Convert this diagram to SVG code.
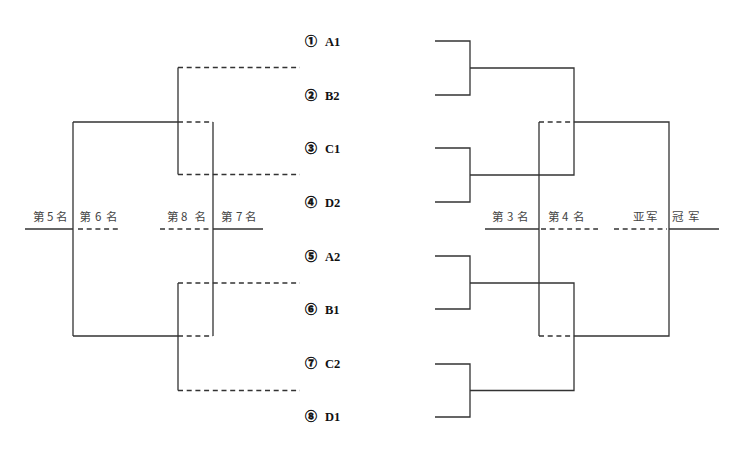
<svg xmlns="http://www.w3.org/2000/svg" width="747" height="449" viewBox="0 0 747 449">
<style>
.s{fill:none;stroke:#333;stroke-width:1.3}
.d{fill:none;stroke:#333;stroke-width:1.3;stroke-dasharray:5 3.7}
.t{font-family:"Liberation Serif","Noto Sans CJK SC",serif;font-weight:bold;font-size:12.5px;fill:#111}
.c{font-family:"Noto Sans CJK SC","DejaVu Sans",sans-serif;font-weight:900;font-size:12px;stroke:#111;stroke-width:0.4}
.r{font-family:"Noto Sans CJK SC","Liberation Sans",sans-serif;font-size:11.5px;fill:#444}
</style>
<rect width="747" height="449" fill="#fff"/>
<g id="connectors">
<path class="d" d="M178 67.5H300M178 174.5H300M178 283H300M178 390.5H300"/>
<path class="s" d="M178 67.5V174.5M178 283V390.5"/>
<path class="s" d="M73 122H178M73 336H178M73 122V336M213 122V336"/>
<path class="d" d="M178 122H213M178 336H213"/>
<path class="s" d="M25 229H73M213 229H263"/>
<path class="d" d="M78 229H119M160 229H211"/>
<path class="s" d="M435 41H470V95H435M435 148H470V202H435M435 256H470V309H435M435 364H470V417H435"/>
<path class="s" d="M470 68H574V175H470M470 283H574V390.5H470"/>
<path class="d" d="M539 122H574M539 336H574"/>
<path class="s" d="M574 122H669V336H574M539 122V336"/>
<path class="s" d="M485 229H539M669 229H719"/>
<path class="d" d="M541 229H598M614 229H667"/>
</g>
<g id="team1"><text class="t" x="305" y="45.5"><tspan class="c">①</tspan><tspan x="325">A1</tspan></text></g>
<g id="team2"><text class="t" x="305" y="99.5"><tspan class="c">②</tspan><tspan x="325">B2</tspan></text></g>
<g id="team3"><text class="t" x="305" y="152.5"><tspan class="c">③</tspan><tspan x="325">C1</tspan></text></g>
<g id="team4"><text class="t" x="305" y="206.5"><tspan class="c">④</tspan><tspan x="325">D2</tspan></text></g>
<g id="team5"><text class="t" x="305" y="260.5"><tspan class="c">⑤</tspan><tspan x="325">A2</tspan></text></g>
<g id="team6"><text class="t" x="305" y="313.5"><tspan class="c">⑥</tspan><tspan x="325">B1</tspan></text></g>
<g id="team7"><text class="t" x="305" y="368"><tspan class="c">⑦</tspan><tspan x="325">C2</tspan></text></g>
<g id="team8"><text class="t" x="305" y="421"><tspan class="c">⑧</tspan><tspan x="325">D1</tspan></text></g>
<g id="rank5"><text class="r" x="33 47 56" y="220.5">第5名</text></g>
<g id="rank6"><text class="r" x="79.5 95 106" y="220.5">第6名</text></g>
<g id="rank8"><text class="r" x="167 181 194.5" y="220.5">第8名</text></g>
<g id="rank7"><text class="r" x="221 236 245" y="220.5">第7名</text></g>
<g id="rank3"><text class="r" x="492 507 517" y="220.5">第3名</text></g>
<g id="rank4"><text class="r" x="548 562 573" y="220.5">第4名</text></g>
<g id="runnerup"><text class="r" x="633 646" y="220.5">亚军</text></g>
<g id="champion"><text class="r" x="672 688" y="220.5">冠军</text></g>
</svg>
